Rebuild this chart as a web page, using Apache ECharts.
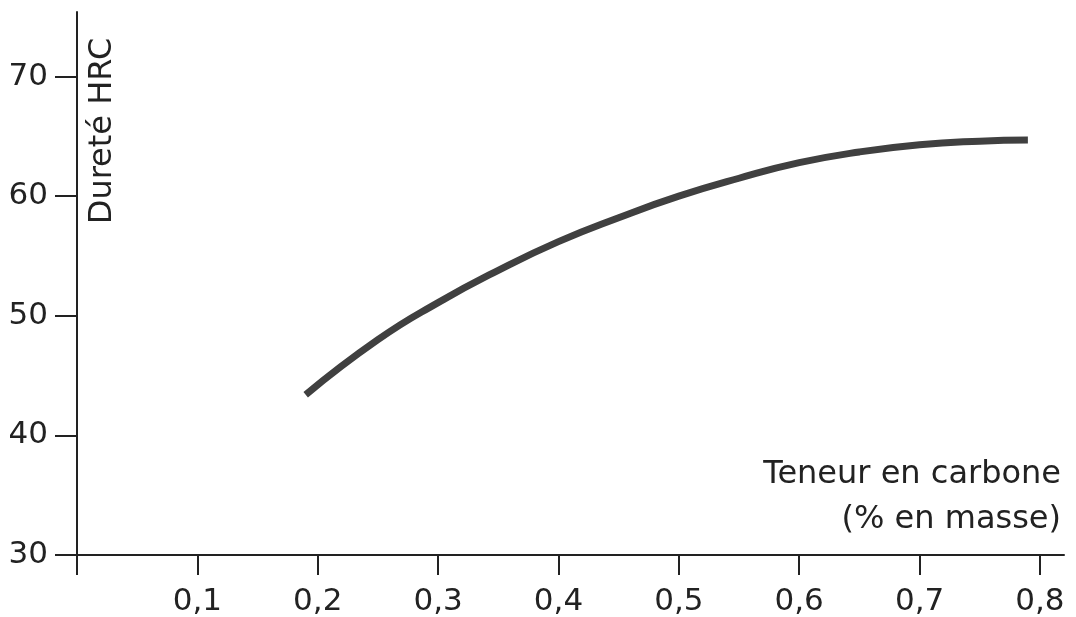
<!DOCTYPE html>
<html>
<head>
<meta charset="utf-8">
<script src="https://cdn.jsdelivr.net/npm/echarts@6/dist/echarts.min.js"></script>
<style>
  html, body { margin: 0; padding: 0; background: #ffffff; }
  #chart { width: 1076px; height: 617px; }
</style>
</head>
<body>
<div id="chart"></div>
<script>
// Carbon content (% by mass) and resulting hardness (HRC)
const carbon = [0.19, 0.25, 0.30, 0.35, 0.40, 0.45, 0.50, 0.55, 0.60, 0.65, 0.70, 0.75, 0.79];
const hardness = [43.4, 48.0, 51.1, 53.8, 56.2, 58.2, 60.0, 61.5, 62.8, 63.7, 64.3, 64.6, 64.7];

const xTicks = [0, 0.1, 0.2, 0.3, 0.4, 0.5, 0.6, 0.7, 0.8];
const yTicks = [30, 40, 50, 60, 70];

const yTitle = 'Dureté HRC';
const xTitle = ['Teneur en carbone', '(% en masse)'];

const FONT = '"DejaVu Sans", Verdana, sans-serif';
const SIZE = 32;
const INK = '#222222';

const chart = echarts.init(document.getElementById('chart'), null, { renderer: 'canvas' });

chart.setOption({
  animation: false,
  backgroundColor: '#ffffff',
  grid: { left: 77, right: 12, top: 12, bottom: 60, containLabel: false },
  xAxis: {
    type: 'value',
    min: 0,
    max: 0.82,
    interval: 0.1,
    splitLine: { show: false },
    axisLine: { show: true, onZero: false, lineStyle: { color: INK, width: 2 } },
    axisTick: { show: true, length: 20, customValues: xTicks, lineStyle: { color: INK, width: 2 } },
    axisLabel: {
      customValues: xTicks.filter(v => v > 0),
      margin: 31,
      color: INK,
      fontFamily: FONT,
      fontSize: 31,
      formatter: v => String(v).replace('.', ',')
    }
  },
  yAxis: {
    type: 'value',
    min: 30,
    max: 75.4,
    interval: 10,
    splitLine: { show: false },
    axisLine: { show: true, lineStyle: { color: INK, width: 2 } },
    axisTick: { show: true, length: 22, customValues: yTicks, lineStyle: { color: INK, width: 2 } },
    axisLabel: {
      customValues: yTicks,
      margin: 29,
      color: INK,
      fontFamily: FONT,
      fontSize: 31
    }
  },
  graphic: [
    {
      type: 'text',
      x: 103, y: 131,
      rotation: Math.PI / 2,
      style: {
        text: yTitle, fill: INK, font: SIZE + 'px ' + FONT,
        align: 'center', verticalAlign: 'middle'
      }
    },
    {
      type: 'text',
      x: 1061, y: 475,
      style: {
        text: xTitle[0], fill: INK, font: SIZE + 'px ' + FONT,
        align: 'right', verticalAlign: 'middle'
      }
    },
    {
      type: 'text',
      x: 1061, y: 520,
      style: {
        text: xTitle[1], fill: INK, font: SIZE + 'px ' + FONT,
        align: 'right', verticalAlign: 'middle'
      }
    }
  ],
  series: [{
    type: 'line',
    data: carbon.map((c, i) => [c, hardness[i]]),
    smooth: 0.5,
    showSymbol: false,
    lineStyle: { color: '#404040', width: 7, cap: 'butt' }
  }]
});
</script>
</body>
</html>
